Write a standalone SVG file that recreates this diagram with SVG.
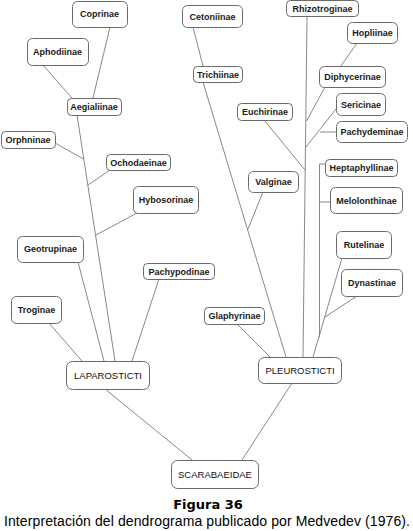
<svg xmlns="http://www.w3.org/2000/svg" width="413" height="531" viewBox="0 0 413 531">
<style>
.b{fill:#fff;stroke:#6a6a6a;stroke-width:1}
.t{font-family:"Liberation Sans",Arial,sans-serif;font-size:9px;font-weight:bold;fill:#1a1a1a;text-anchor:middle}
.g{font-family:"Liberation Sans",Arial,sans-serif;font-size:9.5px;fill:#111;text-anchor:middle}
#connectors line,#connectors polyline{stroke:#7a7a7a;stroke-width:0.9;fill:none}
</style>
<rect width="413" height="531" fill="#fff"/>
<g id="connectors">
<line x1="110" y1="27" x2="93" y2="98"/>
<line x1="43" y1="65" x2="72" y2="98"/>
<line x1="77" y1="115" x2="115" y2="361"/>
<line x1="55" y1="143" x2="83.5" y2="159"/>
<line x1="110" y1="170" x2="88" y2="185"/>
<line x1="137" y1="213" x2="96" y2="235"/>
<line x1="78" y1="262" x2="104" y2="361"/>
<line x1="159" y1="279" x2="132" y2="361"/>
<line x1="49" y1="323" x2="82" y2="361"/>
<line x1="105" y1="389" x2="192" y2="460"/>
<line x1="292" y1="383" x2="242" y2="460"/>
<line x1="193" y1="27" x2="203" y2="66"/>
<line x1="203" y1="82" x2="286" y2="357"/>
<line x1="263" y1="192" x2="248" y2="229"/>
<line x1="307" y1="16" x2="303" y2="357"/>
<line x1="357" y1="43" x2="341" y2="66"/>
<line x1="325" y1="87" x2="306.5" y2="121"/>
<line x1="336" y1="109" x2="306" y2="147"/>
<line x1="320" y1="132" x2="336" y2="132"/>
<line x1="264" y1="120" x2="305" y2="170"/>
<polyline points="325,164 319.5,164 319.5,337"/>
<line x1="319.5" y1="202" x2="330" y2="202"/>
<line x1="342" y1="258" x2="313" y2="357"/>
<line x1="357" y1="296" x2="325" y2="317"/>
<line x1="237" y1="324" x2="270" y2="357"/>
</g>
<g id="coprinae"><rect class="b" x="72.5" y="1.5" width="55" height="26" rx="5"/><text class="t" x="99.5" y="17">Coprinae</text></g>
<g id="aphodiinae"><rect class="b" x="27.5" y="38.5" width="61" height="27" rx="5"/><text class="t" x="57.5" y="54.7">Aphodiinae</text></g>
<g id="aegialiinae"><rect class="b" x="67.5" y="98.5" width="54" height="17" rx="4"/><text class="t" x="94" y="109.7">Aegialiinae</text></g>
<g id="orphninae"><rect class="b" x="1.5" y="131.5" width="54" height="17" rx="4"/><text class="t" x="28" y="142.7">Orphninae</text></g>
<g id="ochodaeinae"><rect class="b" x="106.5" y="154.5" width="64" height="16" rx="4"/><text class="t" x="138.5" y="165.5">Ochodaeinae</text></g>
<g id="hybosorinae"><rect class="b" x="133.5" y="186.5" width="65" height="27" rx="5"/><text class="t" x="166" y="202.7">Hybosorinae</text></g>
<g id="geotrupinae"><rect class="b" x="17.5" y="236.5" width="66" height="26" rx="5"/><text class="t" x="50.5" y="252.2">Geotrupinae</text></g>
<g id="pachypodinae"><rect class="b" x="143.5" y="263.5" width="71" height="16" rx="4"/><text class="t" x="179" y="274.5">Pachypodinae</text></g>
<g id="troginae"><rect class="b" x="11.5" y="296.5" width="50" height="27" rx="5"/><text class="t" x="36.5" y="312.7">Troginae</text></g>
<g id="laparosticti"><rect class="b" x="66.5" y="361.5" width="83" height="28" rx="6"/><text class="g" x="108" y="378.6">LAPAROSTICTI</text></g>
<g id="cetoniinae"><rect class="b" x="182.5" y="5.5" width="60" height="22" rx="5"/><text class="t" x="212.5" y="19.7">Cetoniinae</text></g>
<g id="rhizotroginae"><rect class="b" x="286.5" y="0.5" width="72" height="16" rx="4"/><text class="t" x="322.5" y="11.7">Rhizotroginae</text></g>
<g id="hopliinae"><rect class="b" x="347.5" y="22.5" width="50" height="21" rx="5"/><text class="t" x="372.5" y="36.2">Hopliinae</text></g>
<g id="trichiinae"><rect class="b" x="193.5" y="66.5" width="49" height="16" rx="4"/><text class="t" x="218" y="77.7">Trichiinae</text></g>
<g id="diphycerinae"><rect class="b" x="319.5" y="66.5" width="66" height="21" rx="5"/><text class="t" x="352.5" y="80.2">Diphycerinae</text></g>
<g id="sericinae"><rect class="b" x="336.5" y="93.5" width="49" height="22" rx="5"/><text class="t" x="361" y="107.7">Sericinae</text></g>
<g id="euchirinae"><rect class="b" x="237.5" y="103.5" width="55" height="17" rx="4"/><text class="t" x="265" y="114.7">Euchirinae</text></g>
<g id="pachydeminae"><rect class="b" x="336.5" y="121.5" width="71" height="21" rx="5"/><text class="t" x="372" y="135.2">Pachydeminae</text></g>
<g id="heptaphyllinae"><rect class="b" x="325.5" y="159.5" width="72" height="17" rx="4"/><text class="t" x="361.5" y="170.7">Heptaphyllinae</text></g>
<g id="valginae"><rect class="b" x="248.5" y="171.5" width="50" height="21" rx="5"/><text class="t" x="273.5" y="185.2">Valginae</text></g>
<g id="melolonthinae"><rect class="b" x="330.5" y="187.5" width="72" height="26" rx="5"/><text class="t" x="366.5" y="203.7">Melolonthinae</text></g>
<g id="rutelinae"><rect class="b" x="336.5" y="231.5" width="55" height="27" rx="5"/><text class="t" x="364" y="247.7">Rutelinae</text></g>
<g id="dynastinae"><rect class="b" x="341.5" y="269.5" width="61" height="27" rx="5"/><text class="t" x="372" y="285.7">Dynastinae</text></g>
<g id="glaphyrinae"><rect class="b" x="204.5" y="307.5" width="60" height="17" rx="4"/><text class="t" x="234.5" y="318.7">Glaphyrinae</text></g>
<g id="pleurosticti"><rect class="b" x="258.5" y="357.5" width="83" height="26" rx="6"/><text class="g" x="300" y="373.6">PLEUROSTICTI</text></g>
<g id="scarabaeidae"><rect class="b" x="171.5" y="460.5" width="87" height="28" rx="6"/><text class="g" x="215" y="477.6">SCARABAEIDAE</text></g>
<text x="208" y="509" font-family="'DejaVu Sans',Verdana,sans-serif" font-size="13" font-weight="bold" fill="#000" text-anchor="middle">Figura 36</text>
<text x="4" y="526" font-family="'Liberation Sans',Arial,sans-serif" font-size="14" fill="#000" textLength="406" lengthAdjust="spacing">Interpretación del dendrograma publicado por Medvedev (1976).</text>
</svg>
